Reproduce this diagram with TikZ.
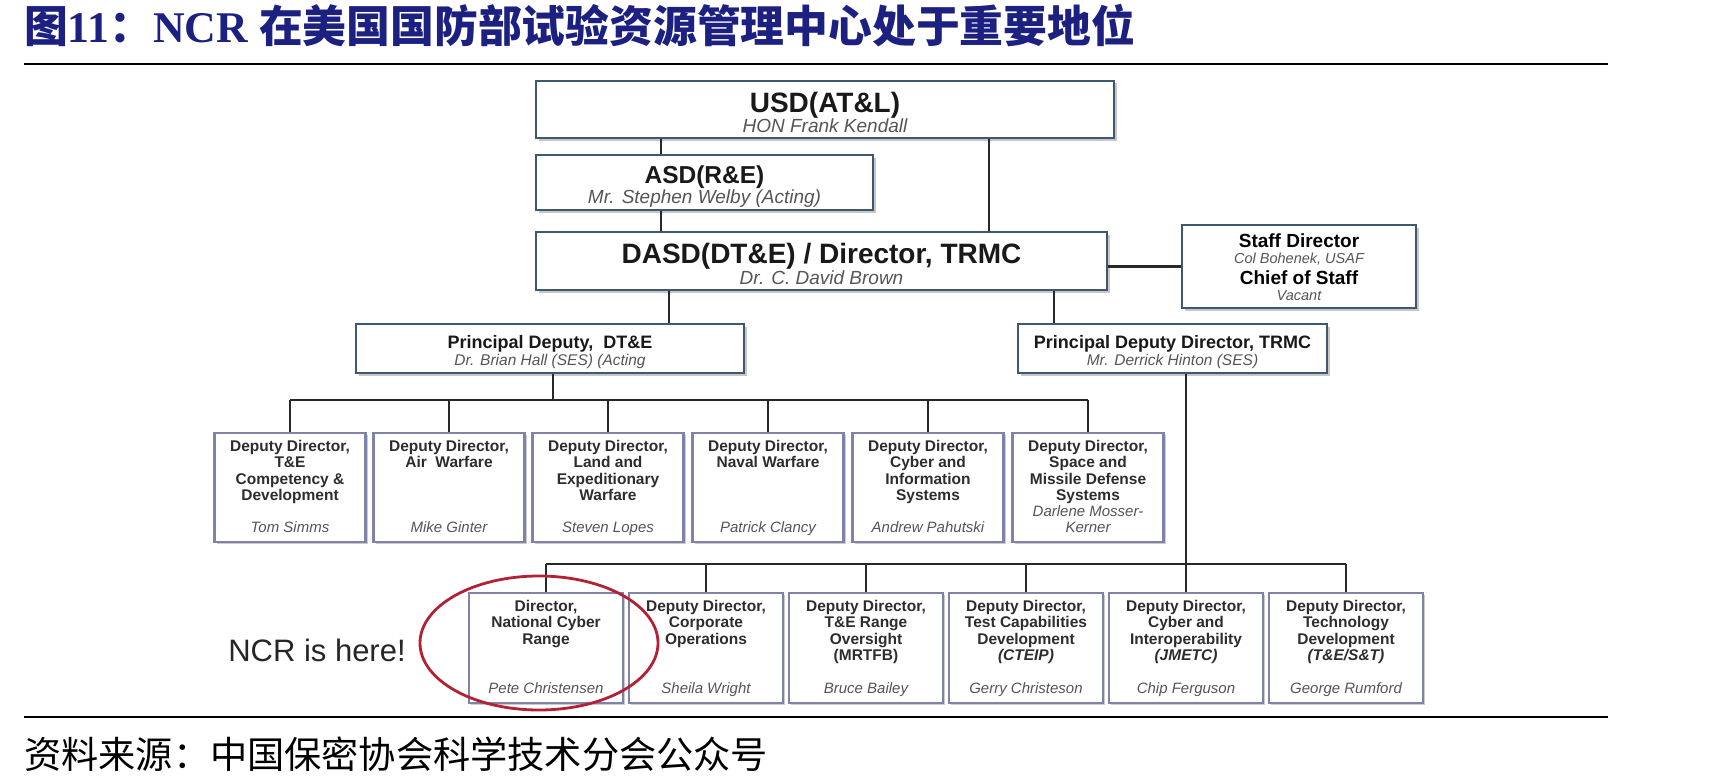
\documentclass[tikz,border=0pt]{standalone}
\usepackage{fontspec}
\setmainfont{Liberation Sans}
\newfontfamily\cjk{Noto Sans CJK SC}
\newfontfamily\tnr{Liberation Serif}
\usetikzlibrary{shadows}
\definecolor{titleblue}{RGB}{28,32,128}
\definecolor{topborder}{RGB}{62,88,115}
\definecolor{rowborder}{RGB}{128,130,168}
\definecolor{linec}{RGB}{40,40,40}
\definecolor{namec}{RGB}{85,85,85}
\definecolor{rowtext}{RGB}{45,45,45}
\definecolor{ncrred}{RGB}{178,34,52}
\begin{document}
\begin{tikzpicture}[x=1pt,y=-1pt,
  topbox/.style={draw=topborder, line width=2.6pt, fill=white, inner sep=0pt,
    drop shadow={shadow xshift=2.5pt, shadow yshift=-2.5pt, fill=gray!55, opacity=0.8}},
  rowbox/.style={draw=rowborder, line width=2.2pt, fill=white, inner sep=0pt, anchor=north,
    drop shadow={shadow xshift=2pt, shadow yshift=-2pt, fill=gray!50, opacity=0.8}},
  bigt/.style={font=\fontsize{28}{32}\selectfont\bfseries, text=black!90, inner sep=0pt, anchor=base},
  bign/.style={font=\fontsize{19}{22}\selectfont\itshape, text=namec, inner sep=0pt, anchor=base},
  midt/.style={font=\fontsize{18}{21}\selectfont\bfseries, text=black!90, inner sep=0pt, anchor=base},
  midn/.style={font=\fontsize{15.5}{18}\selectfont\itshape, text=namec, inner sep=0pt, anchor=base},
  rt/.style={font=\fontsize{15.5}{16.3}\selectfont\bfseries, text=rowtext, inner sep=0pt, anchor=north, align=center},
  rn/.style={font=\fontsize{15}{16.3}\selectfont\itshape, text=namec, inner sep=0pt, anchor=base},
  conn/.style={draw=linec, line width=2.2pt}
]
\useasboundingbox (0,0) rectangle (1735,784);
\fill[white] (0,0) rectangle (1735,784);

% title
\node[anchor=west, inner sep=0pt, text=titleblue, font=\fontsize{43.8}{50}\selectfont] (title) at (24,26)
  {{\cjk\bfseries 图}{\tnr\bfseries 11}{\cjk\bfseries ：}{\tnr\bfseries NCR }{\cjk\bfseries 在美国国防部试验资源管理中心处于重要地位}};
\draw[line width=2.4pt] (24,64) -- (1608,64);
\draw[line width=2.4pt] (24,717) -- (1608,717);
\node[anchor=west, inner sep=0pt, font=\fontsize{37.2}{42}\selectfont\cjk] (src) at (24,754)
  {资料来源：中国保密协会科学技术分会公众号};

% top boxes
\node[topbox, minimum width=578pt, minimum height=57pt] (usd) at (825,109.5) {};
\node[topbox, minimum width=337pt, minimum height=55pt] (asd) at (704.5,182.5) {};
\node[topbox, minimum width=571pt, minimum height=58pt] (dasd) at (821.5,261) {};
\node[topbox, minimum width=234pt, minimum height=83pt] (staff) at (1299,266.5) {};
\node[topbox, minimum width=388pt, minimum height=49pt] (pd) at (550,348.5) {};
\node[topbox, minimum width=309pt, minimum height=49pt] (pdd) at (1172.5,348.5) {};

\node[bigt] (usdt) at (825,112) {USD(AT\&L)};
\node[bign] (usdn) at (825,132) {HON Frank Kendall};
\node[bigt, font=\fontsize{24.5}{28}\selectfont\bfseries] (asdt) at (704.5,183.5) {ASD(R\&E)};
\node[bign] (asdn) at (704.5,203.5) {Mr. Stephen Welby (Acting)};
\node[bigt] (dasdt) at (821.5,263) {DASD(DT\&E) / Director, TRMC};
\node[bign] (dasdn) at (821.5,284) {Dr. C. David Brown};
\node[font=\fontsize{19}{22}\selectfont\bfseries, inner sep=0pt, anchor=base] (st1) at (1299,247) {Staff Director};
\node[font=\fontsize{14.5}{17}\selectfont\itshape, text=namec, inner sep=0pt, anchor=base] (st2) at (1299,263) {Col Bohenek, USAF};
\node[font=\fontsize{19}{22}\selectfont\bfseries, inner sep=0pt, anchor=base] (st3) at (1299,284) {Chief of Staff};
\node[font=\fontsize{14.5}{17}\selectfont\itshape, text=namec, inner sep=0pt, anchor=base] (st4) at (1299,300) {Vacant};
\node[midt] (pdt) at (550,348.5) {Principal Deputy,\ \ DT\&E};
\node[midn] (pdn) at (550,365.5) {Dr. Brian Hall (SES) (Acting};
\node[midt] (pddt) at (1172.5,348.5) {Principal Deputy Director, TRMC};
\node[midn] (pddn) at (1172.5,365.5) {Mr. Derrick Hinton (SES)};

% row 1 boxes
\foreach \n/\x in {r1a/290, r1b/449, r1c/608, r1d/768, r1e/928, r1f/1088}
  \node[rowbox, minimum width=151pt, minimum height=109pt] (\n) at (\x,432) {};
\node[rt] (r1at) at (290,440) {Deputy Director,\\T\&E\\Competency \&\\Development};
\node[rn] (r1an) at (290,532.5) {Tom Simms};
\node[rt] (r1bt) at (449,440) {Deputy Director,\\Air\ \ Warfare};
\node[rn] (r1bn) at (449,532.5) {Mike Ginter};
\node[rt] (r1ct) at (608,440) {Deputy Director,\\Land and\\Expeditionary\\Warfare};
\node[rn] (r1cn) at (608,532.5) {Steven Lopes};
\node[rt] (r1dt) at (768,440) {Deputy Director,\\Naval Warfare};
\node[rn] (r1dn) at (768,532.5) {Patrick Clancy};
\node[rt] (r1et) at (928,440) {Deputy Director,\\Cyber and\\Information\\Systems};
\node[rn] (r1en) at (928,532.5) {Andrew Pahutski};
\node[rt] (r1ft) at (1088,440) {Deputy Director,\\Space and\\Missile Defense\\Systems};
\node[rn] (r1fn) at (1088,516.3) {Darlene Mosser-};
\node[rn] (r1fm) at (1088,532.5) {Kerner};

% row 2 boxes
\foreach \n/\x in {r2a/546, r2b/706, r2c/866, r2d/1026, r2e/1186, r2f/1346}
  \node[rowbox, minimum width=154pt, minimum height=110pt] (\n) at (\x,592) {};
\node[rt] (r2at) at (546,600) {Director,\\National Cyber\\Range};
\node[rn] (r2an) at (546,693.3) {Pete Christensen};
\node[rt] (r2bt) at (706,600) {Deputy Director,\\Corporate\\Operations};
\node[rn] (r2bn) at (706,693.3) {Sheila Wright};
\node[rt] (r2ct) at (866,600) {Deputy Director,\\T\&E Range\\Oversight\\(MRTFB)};
\node[rn] (r2cn) at (866,693.3) {Bruce Bailey};
\node[rt] (r2dt) at (1026,600) {Deputy Director,\\Test Capabilities\\Development\\\textit{(CTEIP)}};
\node[rn] (r2dn) at (1026,693.3) {Gerry Christeson};
\node[rt] (r2et) at (1186,600) {Deputy Director,\\Cyber and\\Interoperability\\\textit{(JMETC)}};
\node[rn] (r2en) at (1186,693.3) {Chip Ferguson};
\node[rt] (r2ft) at (1346,600) {Deputy Director,\\Technology\\Development\\\textit{(T\&E/S\&T)}};
\node[rn] (r2fn) at (1346,693.3) {George Rumford};

% connectors
\coordinate (cA) at (661,0);
\coordinate (cB) at (989,0);
\coordinate (cC) at (669,0);
\coordinate (cD) at (1054,0);
\coordinate (bus1) at (553,400);
\coordinate (bus2) at (1186,564);
\draw[conn] (usd.south -| cA) -- (asd.north -| cA);
\draw[conn] (asd.south -| cA) -- (dasd.north -| cA);
\draw[conn] (usd.south -| cB) -- (dasd.north -| cB);
\draw[conn] (dasd.east |- staff.west) -- (staff.west);
\draw[conn] (dasd.south -| cC) -- (pd.north -| cC);
\draw[conn] (dasd.south -| cD) -- (pdd.north -| cD);
\draw[conn] (pd.south -| bus1) -- (bus1);
\draw[conn] (bus1 -| r1a.north) -- (bus1 -| r1f.north);
\foreach \n in {r1a,r1b,r1c,r1d,r1e,r1f}
  \draw[conn] (bus1 -| \n.north) -- (\n.north);
\draw[conn] (pdd.south -| bus2) -- (bus2);
\draw[conn] (bus2 -| r2a.north) -- (bus2 -| r2f.north);
\foreach \n in {r2a,r2b,r2c,r2d,r2e,r2f}
  \draw[conn] (bus2 -| \n.north) -- (\n.north);

% NCR annotation
\node[inner sep=0pt, font=\fontsize{31}{36}\selectfont, text=black!85] (ncr) at (317,650) {NCR is here!};
\draw[ncrred, line width=2.8pt] (539,643) ellipse [x radius=119pt, y radius=67pt];
\end{tikzpicture}
\end{document}
